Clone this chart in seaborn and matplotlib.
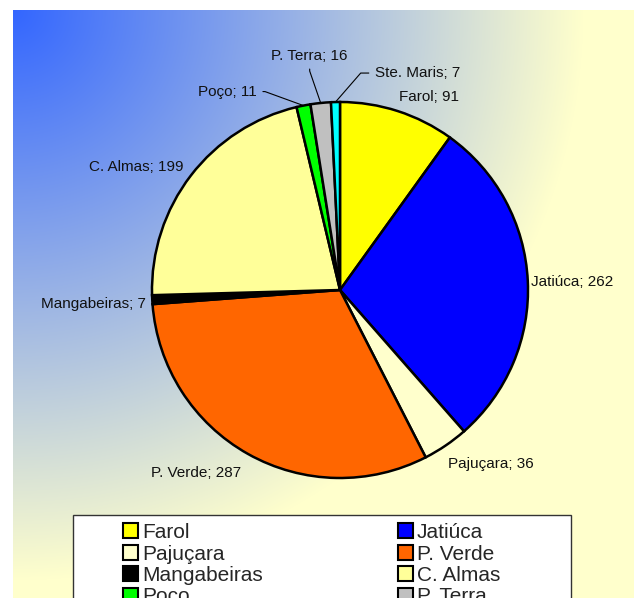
import numpy as np
import matplotlib
matplotlib.use("Agg")
import matplotlib.pyplot as plt
import seaborn as sns
from matplotlib.patches import Patch, Rectangle

# -------------------------------
# Data
# -------------------------------
bairros = ["Farol", "Jatiúca", "Pajuçara", "P. Verde", "Mangabeiras",
           "C. Almas", "Poço", "P. Terra", "Ste. Maris"]
valores = [91, 262, 36, 287, 7, 199, 11, 16, 7]
cores = ["#ffff00", "#0000ff", "#ffffcc", "#ff6600", "#000000",
         "#ffff99", "#00ff00", "#c0c0c0", "#00ffff"]

sns.set_style("white")
plt.rcParams["font.family"] = ["Liberation Sans", "DejaVu Sans"]

W, H, DPI = 634, 598, 100
fig = plt.figure(figsize=(W / DPI, H / DPI), dpi=DPI, facecolor="white")

# -------------------------------
# Gradient background (blue corner -> light yellow)
# -------------------------------
gx0, gy0 = 13, 10
bg = fig.add_axes([gx0 / W, 0, 1 - gx0 / W, 1 - gy0 / H])
yy, xx = np.mgrid[0:H - gy0, 0:W - gx0]
t = np.clip(np.hypot(xx, yy) / 570.0, 0, 1)[..., None]
c0 = np.array([51, 102, 255]) / 255
c1 = np.array([255, 255, 204]) / 255
bg.imshow(c0 * (1 - t) + c1 * t, aspect="auto", interpolation="bilinear")
bg.set_axis_off()

# -------------------------------
# Pie
# -------------------------------
cx, cy, r = 340, 290, 188
pad = 1.05
ax = fig.add_axes([(cx - r * pad) / W, (H - cy - r * pad) / H,
                   2 * r * pad / W, 2 * r * pad / H])
wedges, _ = ax.pie(valores, colors=cores, startangle=90, counterclock=False,
                   wedgeprops=dict(edgecolor="black", linewidth=1.8))
ax.set_xlim(-pad, pad)
ax.set_ylim(-pad, pad)
ax.set_axis_off()

# label offsets (pixels) from the wedge's outer mid point
offsets = [(31, 14), (44, -1), (45, -18), (-52, -19), (-59, -4),
           (-55, 8), (-76, 14), (-11, 47), (82, 29)]
leaders = {
    "Poço": dict(relpos=(1, 0.5), connectionstyle="angle,angleA=0,angleB=-20,rad=0"),
    "P. Terra": dict(relpos=(0.5, 0), connectionstyle="angle,angleA=90,angleB=-71,rad=0"),
    "Ste. Maris": dict(relpos=(0, 0.5), connectionstyle="angle,angleA=0,angleB=49,rad=0"),
}
for w, nome, v, off in zip(wedges, bairros, valores, offsets):
    ang = np.deg2rad((w.theta1 + w.theta2) / 2)
    xy = (np.cos(ang), np.sin(ang))
    kw = {}
    if nome in leaders:
        kw["arrowprops"] = dict(arrowstyle="-", color="black", lw=0.8,
                                shrinkA=2, shrinkB=0, **leaders[nome])
    ax.annotate(f"{nome}; {v}", xy=xy, xytext=off, textcoords="offset pixels",
                ha="center", va="center", fontsize=11, color="#111111",
                annotation_clip=False, **kw)

# -------------------------------
# Legend (box runs off the bottom edge), filled row by row
# -------------------------------
fig.patches.append(Rectangle((73 / W, -0.05), (571 - 73) / W, (H - 515) / H + 0.05,
                             transform=fig.transFigure, facecolor="white",
                             edgecolor="#333333", lw=1, zorder=2))
ordem = list(range(0, len(bairros), 2)) + list(range(1, len(bairros), 2))
handles = [Patch(facecolor=cores[i], edgecolor="black", lw=1.5) for i in ordem]
leg = fig.legend(handles, [bairros[i] for i in ordem], ncol=2, loc="upper left",
                 bbox_to_anchor=(123 / W, 1 - 523 / H), frameon=False,
                 fontsize=15, handlelength=0.7, handleheight=0.7,
                 handletextpad=0.2, labelspacing=0.12, columnspacing=6.5,
                 borderpad=0, borderaxespad=0)
leg.set_zorder(3)

fig.savefig("out.png", dpi=DPI, facecolor="white")
